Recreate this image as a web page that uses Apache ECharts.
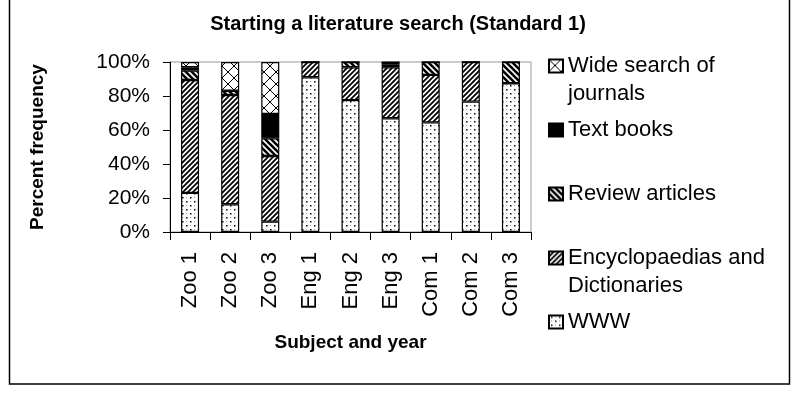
<!DOCTYPE html>
<html lang="en">
<head>
    <meta charset="UTF-8">
    <title>Starting a literature search</title>
    <script src="https://cdn.jsdelivr.net/npm/echarts@6/dist/echarts.min.js"></script>
    <style>
      *{margin:0;padding:0}
      html,body{width:100%;height:100%;background:#fff}
      #main{width:796px;height:398px}
    </style>
</head>
<body>
<div id="main"></div>
<script>
    var categories = ['Zoo 1', 'Zoo 2', 'Zoo 3', 'Eng 1', 'Eng 2', 'Eng 3', 'Com 1', 'Com 2', 'Com 3'];
    var yTicks = [0, 20, 40, 60, 80, 100];

    // percent of answers per subject/year, bottom to top of each bar
    var www     = [23,   16.3, 6.1,  91, 77.6, 66.9, 64.5, 76.7, 87.5];
    var encyc   = [66.4, 64.3, 38.6, 9,  19.3, 30,   27.9, 23.3, 0];
    var review  = [5.5,  2.5,  10.4, 0,  3.1,  1.5,  7.6,  0,    12.5];
    var books   = [2,    0,    14.3, 0,  0,    1.6,  0,    0,    0];
    var journal = [3.1,  16.9, 30.6, 0,  0,    0,    0,    0,    0];

    var FONT = '"Liberation Sans", Arial, sans-serif';

    // little canvas tiles for the black & white fills
    function tile(size, draw) {
        var c = document.createElement('canvas');
        c.width = size; c.height = size;
        var ctx = c.getContext('2d');
        ctx.fillStyle = '#fff';
        ctx.fillRect(0, 0, size, size);
        draw(ctx, size);
        return { image: c, repeat: 'repeat' };
    }
    function stripes(ctx, s, dir, w) {
        ctx.strokeStyle = '#000';
        ctx.lineWidth = w;
        ctx.beginPath();
        for (var k = -1; k <= 1; k++) {
            if (dir > 0) {
                ctx.moveTo(k * s - 1, s + 1); ctx.lineTo(k * s + s + 1, -1);
            } else {
                ctx.moveTo(k * s - 1, -1); ctx.lineTo(k * s + s + 1, s + 1);
            }
        }
        ctx.stroke();
    }

    var dotFill = tile(8, function (ctx) {
        ctx.fillStyle = '#000';
        ctx.fillRect(2, 1, 1.5, 1.5);
        ctx.fillRect(6, 5, 1.5, 1.5);
        ctx.fillStyle = '#999';
        ctx.fillRect(6, 1, 1, 1);
        ctx.fillRect(2, 5, 1, 1);
    });
    var encycFill = tile(5, function (ctx, s) { stripes(ctx, s, 1, 1.8); });
    var reviewFill = tile(6, function (ctx, s) { stripes(ctx, s, -1, 2.6); });
    var crossFill = tile(12, function (ctx, s) {
        ctx.strokeStyle = '#000';
        ctx.lineWidth = 1;
        ctx.beginPath();
        ctx.moveTo(0, 0); ctx.lineTo(s, s);
        ctx.moveTo(0, s); ctx.lineTo(s, 0);
        ctx.stroke();
    });

    function barSeries(name, data, fill) {
        return {
            name: name,
            type: 'bar',
            stack: 'all',
            barWidth: 18,
            data: data,
            itemStyle: { color: fill, borderColor: '#000', borderWidth: 1.2 },
            emphasis: { disabled: true }
        };
    }

    // two-line entries get an empty first line so the icon sits on the first text line
    function legendAt(name, label, top) {
        return {
            data: [name],
            left: 548,
            top: top,
            padding: 0,
            itemWidth: 14,
            itemHeight: 13,
            itemGap: 0,
            icon: 'rect',
            selectedMode: false,
            formatter: function () { return label; },
            textStyle: { color: '#000', fontSize: 22, fontFamily: FONT, lineHeight: 28 }
        };
    }

    var chart = echarts.init(document.getElementById('main'));
    chart.setOption({
        backgroundColor: '#fff',
        animation: false,
        title: {
            text: 'Starting a literature search (Standard 1)',
            left: 'center',
            top: 9,
            textStyle: { fontSize: 20, fontWeight: 'bold', color: '#000', fontFamily: FONT }
        },
        graphic: [{
            type: 'rect',
            shape: { x: 9.5, y: -2, width: 780, height: 386 },
            style: { fill: null, stroke: '#000', lineWidth: 1.5 },
            silent: true
        }],
        legend: [
            legendAt('Wide search of journals', '\nWide search of\njournals', 24),
            legendAt('Text books', 'Text books', 116),
            legendAt('Review articles', 'Review articles', 180),
            legendAt('Encyclopaedias and Dictionaries', '\nEncyclopaedias and\nDictionaries', 216),
            legendAt('WWW', 'WWW', 308)
        ],
        grid: {
            left: 170, right: 265, top: 62, bottom: 166,
            show: true, borderColor: '#999', borderWidth: 1, backgroundColor: '#fff'
        },
        xAxis: {
            type: 'category',
            data: categories,
            name: 'Subject and year',
            nameLocation: 'middle',
            nameGap: 101,
            nameTextStyle: { fontSize: 19, fontWeight: 'bold', color: '#000', fontFamily: FONT },
            axisLine: { lineStyle: { color: '#000', width: 1 } },
            axisTick: { show: true, length: 8, alignWithLabel: false, lineStyle: { color: '#000' } },
            axisLabel: { rotate: 90, margin: 20, fontSize: 22, color: '#000', fontFamily: FONT, interval: 0 }
        },
        yAxis: {
            type: 'value',
            min: yTicks[0],
            max: yTicks[yTicks.length - 1],
            interval: 20,
            name: 'Percent frequency',
            nameLocation: 'middle',
            nameGap: 123,
            nameTextStyle: { fontSize: 19, fontWeight: 'bold', color: '#000', fontFamily: FONT },
            axisLine: { show: true, lineStyle: { color: '#000', width: 1 } },
            axisTick: { show: true, length: 7, lineStyle: { color: '#000' } },
            axisLabel: { formatter: '{value}%', margin: 20, fontSize: 21, color: '#000', fontFamily: FONT },
            splitLine: { show: false }
        },
        series: [
            barSeries('WWW', www, dotFill),
            barSeries('Encyclopaedias and Dictionaries', encyc, encycFill),
            barSeries('Review articles', review, reviewFill),
            barSeries('Text books', books, '#000'),
            barSeries('Wide search of journals', journal, crossFill)
        ]
    });
</script>
</body>
</html>
